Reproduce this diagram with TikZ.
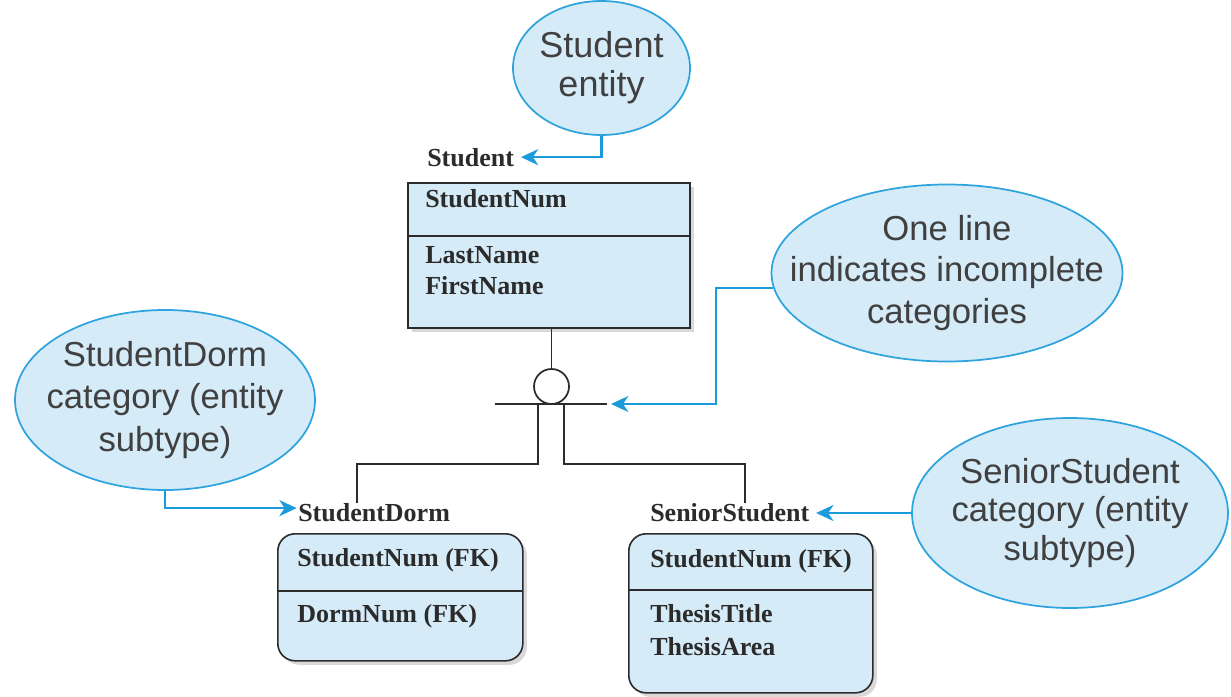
\documentclass[tikz,border=0pt]{standalone}
\usepackage{fontspec}
\setmainfont{Liberation Serif}
\newfontfamily\callfont{Liberation Sans}
\usetikzlibrary{shapes.geometric,arrows.meta,shadows}

\definecolor{boxfill}{HTML}{D6EBF8}
\definecolor{callfill}{HTML}{D5EBF8}
\definecolor{callline}{HTML}{2EA3DD}
\definecolor{arrowblue}{HTML}{1C9BDB}
\definecolor{ink}{HTML}{2B2B2B}

\begin{document}
\begin{tikzpicture}[x=0.75pt,y=-0.75pt,
  callout/.style={ellipse, draw=callline, fill=callfill, line width=1.3pt, inner sep=0pt},
  calltext/.style={font=\callfont\fontsize{26}{31}\selectfont, text=ink!90, align=center, inner sep=0pt},
  pointer/.style={draw=arrowblue, line width=1.6pt, -{Stealth[length=13pt,width=12pt,inset=4pt]}},
  entitybox/.style={rectangle, draw=ink, fill=boxfill, line width=1.2pt, inner sep=0pt, anchor=north west,
    drop shadow={shadow xshift=3pt, shadow yshift=-3pt, opacity=.3}},
  attr/.style={font=\bfseries\fontsize{19.5}{24}\selectfont, text=ink, anchor=base west, inner sep=0pt},
  link/.style={draw=ink, line width=1.3pt}]

\useasboundingbox (0,0) rectangle (1231,696);

% ---- supertype entity: Student ----
\node[entitybox, minimum width=211.5pt, minimum height=108.75pt] (student) at (407,182) {};
\draw[link] (407,236) -- (689,236);
\node[attr] (studentlbl) at (427,166) {Student};
\node[attr] (sNum) at (425,207) {StudentNum};
\node[attr] (sLast) at (425,263) {LastName};
\node[attr] (sFirst) at (425,294) {FirstName};

% ---- subtype: StudentDorm ----
\node[entitybox, rounded corners=13pt, minimum width=183.75pt, minimum height=95.25pt] (dorm) at (277,533) {};
\draw[link] (277,591) -- (522,591);
\node[attr] (dormlbl) at (298,521) {StudentDorm};
\node[attr] (dNum) at (297,566) {StudentNum (FK)};
\node[attr] (dDorm) at (297,622) {DormNum (FK)};

% ---- subtype: SeniorStudent ----
\node[entitybox, rounded corners=13pt, minimum width=183pt, minimum height=119.25pt] (senior) at (628,533) {};
\draw[link] (628,590) -- (872,590);
\node[attr] (seniorlbl) at (650,521) {SeniorStudent};
\node[attr] (eNum) at (650,567) {StudentNum (FK)};
\node[attr] (eTitle) at (650,622) {ThesisTitle};
\node[attr] (eArea) at (650,655) {ThesisArea};

% ---- category symbol (incomplete: one line) ----
\node[draw=ink, circle, minimum size=26.25pt, inner sep=0pt, line width=1.3pt] (cat) at (551.5,386.5) {};
\coordinate (barL) at (495,404);
\coordinate (barR) at (607,404);
\coordinate (legL) at (538,404);
\coordinate (legR) at (564,404);
\coordinate (dormDrop) at (357,464);
\coordinate (seniorDrop) at (745,464);
\draw[link] (cat.north |- student.south) -- (cat.north);
\draw[link] (barL) -- (barR);
\draw[link] (legL) |- (dormDrop) -- (dormDrop |- dormlbl.north);
\draw[link] (legR) |- (seniorDrop) -- (seniorDrop |- seniorlbl.north);

% ---- callouts ----
\node[callout, minimum width=132.75pt, minimum height=100.5pt] (entcall) at (601.5,68) {};
\node[calltext, font=\callfont\fontsize{27}{29}\selectfont] (entcalltext) at (entcall) {Student\\entity};

\node[callout, minimum width=263.25pt, minimum height=132.75pt] (inccall) at (947,273) {};
\node[calltext] (inccalltext) at (inccall) {One line\\indicates incomplete\\categories};

\node[callout, minimum width=225pt, minimum height=135pt] (dormcall) at (165,400) {};
\node[calltext, font=\callfont\fontsize{26}{32}\selectfont] (dormcalltext) at (dormcall) {StudentDorm\\category (entity\\subtype)};

\node[callout, minimum width=237pt, minimum height=142.5pt] (seniorcall) at (1070,513) {};
\node[calltext, font=\callfont\fontsize{26}{29}\selectfont] (seniorcalltext) at (seniorcall) {SeniorStudent\\category (entity\\subtype)};

% ---- callout pointers ----
\coordinate (studentTip) at ([xshift=5pt]studentlbl.east);
\coordinate (dormTip) at ([xshift=-1pt,yshift=3pt]dormlbl.west);
\coordinate (seniorTip) at ([xshift=5pt]seniorlbl.east);
\coordinate (barTip) at ([xshift=3pt]barR);
\draw[pointer] (entcall.south) |- (studentTip);
\draw[pointer] (dormcall.south) |- (dormTip);
\draw[pointer] (seniorcall.west) -- (seniorcall.west -| seniorTip);
\draw[pointer] (inccall.185) -- ++(-57,0) |- (barTip);

\end{tikzpicture}
\end{document}
